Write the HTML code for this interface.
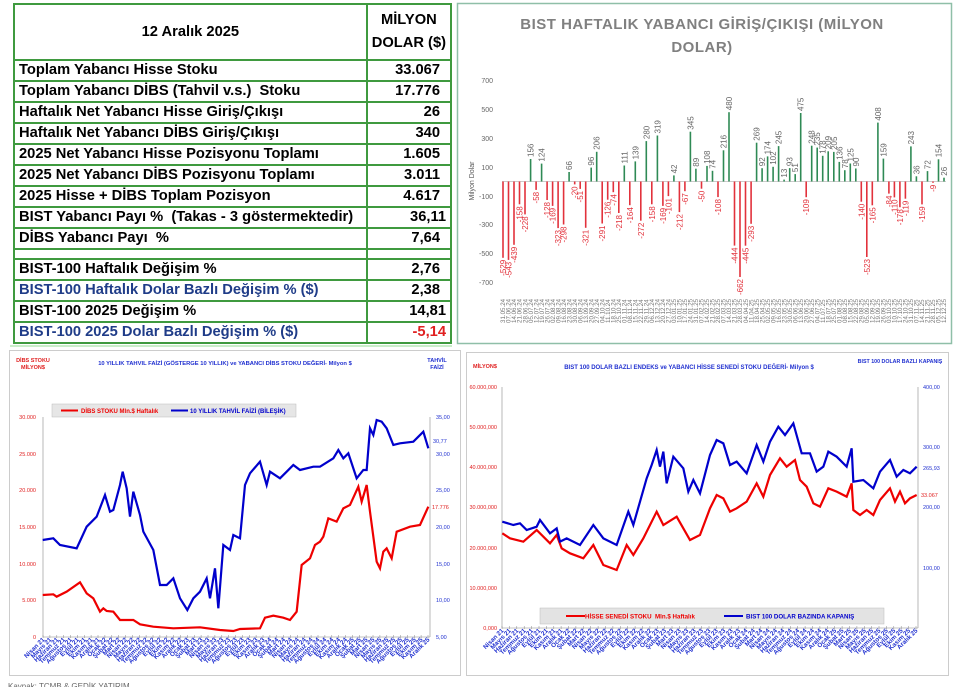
<!DOCTYPE html>
<html><head><meta charset="utf-8"><style>
body{margin:0;width:960px;height:687px;background:#fff;position:relative;overflow:hidden;font-family:"Liberation Sans",sans-serif}
#tbl{position:absolute;left:13px;top:3px;border-collapse:collapse;width:439px;font-weight:bold;font-size:14.7px}
#tbl td{border:2px solid #3f9a3f;padding:0 4px;height:19px;line-height:19px;white-space:nowrap}
#tbl td.v{text-align:right;padding-right:10px}
.b{color:#1f3c88}
svg text{font-family:"Liberation Sans",sans-serif}
</style></head><body>
<table id="tbl">
<tr><td style="height:54px;text-align:center;width:347px">12 Aralık 2025</td><td style="text-align:center;line-height:23px">MİLYON<br>DOLAR ($)</td></tr>
<tr><td>Toplam Yabancı Hisse Stoku</td><td class="v">33.067</td></tr>
<tr><td>Toplam Yabancı DİBS (Tahvil v.s.)&nbsp; Stoku</td><td class="v">17.776</td></tr>
<tr><td>Haftalık Net Yabancı Hisse Giriş/Çıkışı</td><td class="v">26</td></tr>
<tr><td>Haftalık Net Yabancı DİBS Giriş/Çıkışı</td><td class="v">340</td></tr>
<tr><td>2025 Net Yabancı Hisse Pozisyonu Toplamı</td><td class="v">1.605</td></tr>
<tr><td>2025 Net Yabancı DİBS Pozisyonu Toplamı</td><td class="v">3.011</td></tr>
<tr><td>2025 Hisse + DİBS Toplam Pozisyon</td><td class="v">4.617</td></tr>
<tr><td>BIST Yabancı Payı %&nbsp; (Takas - 3 göstermektedir)</td><td class="v" style="padding-right:4px">36,11</td></tr>
<tr><td>DİBS Yabancı Payı&nbsp; %</td><td class="v">7,64</td></tr>
<tr><td style="height:8px;line-height:8px"></td><td style="height:8px;line-height:8px"></td></tr>
<tr><td>BIST-100 Haftalık Değişim %</td><td class="v">2,76</td></tr>
<tr><td class="b">BIST-100 Haftalık Dolar Bazlı Değişim % ($)</td><td class="v">2,38</td></tr>
<tr><td>BIST-100 2025 Değişim %</td><td class="v" style="padding-right:4px">14,81</td></tr>
<tr><td class="b">BIST-100 2025 Dolar Bazlı Değişim % ($)</td><td class="v" style="color:#e02020;padding-right:4px">-5,14</td></tr>
</table>

<svg width="960" height="687" style="position:absolute;left:0;top:0" xmlns="http://www.w3.org/2000/svg">
<rect x="457.5" y="3.5" width="494" height="340" fill="none" stroke="#8fbfa8" stroke-width="1.5"/>
<text x="702" y="29" text-anchor="middle" fill="#808080" font-size="15" font-weight="bold" letter-spacing="0.5">BIST HAFTALIK YABANCI GİRİŞ/ÇIKIŞI (MİLYON</text>
<text x="702" y="52" text-anchor="middle" fill="#808080" font-size="15" font-weight="bold" letter-spacing="0.5">DOLAR)</text>
<g font-size="7" fill="#666" text-anchor="end">
<text x="493" y="83">700</text><text x="493" y="112">500</text><text x="493" y="141">300</text><text x="493" y="170">100</text><text x="493" y="199">-100</text><text x="493" y="227">-300</text><text x="493" y="256">-500</text><text x="493" y="285">-700</text>
</g>
<text transform="translate(474,181) rotate(-90)" text-anchor="middle" font-size="7" fill="#555">Milyon Dolar</text>
<line x1="502" y1="181.5" x2="946" y2="181.5" stroke="#ccc" stroke-width="1"/>
<g id="bars"></g>

<rect x="9.5" y="350.5" width="451" height="325" fill="none" stroke="#ccc"/>
<line x1="10" y1="346" x2="452" y2="346" stroke="#b8e8b8" stroke-width="1.5"/>
<text x="33" y="362" text-anchor="middle" fill="#e02020" font-size="5.5" font-weight="bold">DİBS STOKU</text>
<text x="33" y="369" text-anchor="middle" fill="#e02020" font-size="5.5" font-weight="bold">MİLYON$</text>
<text x="225" y="365" text-anchor="middle" fill="#2030d0" font-size="5.8" font-weight="bold">10 YILLIK TAHVIL FAİZİ (GÖSTERGE 10 YILLIK) ve YABANCI DİBS STOKU DEĞERİ- Milyon $</text>
<text x="437" y="362" text-anchor="middle" fill="#2030d0" font-size="5.5" font-weight="bold">TAHVİL</text>
<text x="437" y="369" text-anchor="middle" fill="#2030d0" font-size="5.5" font-weight="bold">FAİZİ</text>
<rect x="52" y="404" width="244" height="13" fill="#e6e6e6" stroke="#bbb" stroke-width="0.5"/>
<line x1="61" y1="410.5" x2="78" y2="410.5" stroke="#e00" stroke-width="2"/>
<text x="81" y="413" fill="#e00" font-size="6" font-weight="bold">DİBS STOKU Mln.$ Haftalık</text>
<line x1="171" y1="410.5" x2="188" y2="410.5" stroke="#00c" stroke-width="2"/>
<text x="190" y="413" fill="#00c" font-size="6" font-weight="bold">10 YILLIK TAHVİL FAİZİ (BİLEŞİK)</text>
<g font-size="5.5" fill="#e02020" text-anchor="end">
<text x="36" y="419">30.000</text><text x="36" y="456">25.000</text><text x="36" y="492">20.000</text><text x="36" y="529">15.000</text><text x="36" y="566">10.000</text><text x="36" y="602">5.000</text><text x="36" y="639">0</text>
</g>
<g font-size="5.5" fill="#2030d0">
<text x="436" y="419">35,00</text><text x="436" y="456">30,00</text><text x="433" y="443">30,77</text><text x="436" y="492">25,00</text><text x="432" y="509" fill="#e02020">17.776</text><text x="436" y="529">20,00</text><text x="436" y="566">15,00</text><text x="436" y="602">10,00</text><text x="436" y="639">5,00</text>
</g>
<line x1="43" y1="417" x2="43" y2="637" stroke="#888" stroke-width="0.6"/>
<line x1="430" y1="417" x2="430" y2="637" stroke="#888" stroke-width="0.6"/>
<line x1="43" y1="637" x2="430" y2="637" stroke="#888" stroke-width="0.6"/>
<g id="blx"></g>
<g transform="translate(0,345) scale(0.33333)">
<polyline fill="none" stroke="#e00" stroke-width="2.2" vector-effect="non-scaling-stroke" points="128,750 160,748 170,755 200,740 240,712 260,745 280,760 300,800 310,790 320,798 340,800 360,825 400,825 420,838 460,845 520,850 600,847 660,855 700,858 720,852 780,850 795,818 820,812 850,818 870,825 890,800 905,660 930,640 945,600 960,590 970,575 985,520 1010,530 1030,490 1050,480 1075,425 1085,470 1100,420 1110,500 1130,650 1140,670 1150,620 1160,610 1175,640 1190,560 1230,545 1260,540 1285,485"/>
<polyline fill="none" stroke="#00c" stroke-width="2.2" vector-effect="non-scaling-stroke" points="128,585 160,580 180,600 230,610 260,545 290,515 315,450 330,500 340,495 360,420 368,380 380,430 390,515 400,440 420,510 430,560 460,615 480,720 500,720 520,700 540,760 562,795 580,760 600,740 620,700 630,760 645,670 655,790 670,600 690,615 700,570 720,580 735,420 750,385 780,350 800,420 810,380 840,400 860,380 880,360 900,375 940,365 960,365 1000,340 1015,315 1030,340 1045,325 1070,400 1090,375 1100,375 1110,250 1120,270 1130,225 1145,230 1160,250 1180,300 1200,295 1240,290 1270,260 1285,310"/>
</g>

<rect x="466.5" y="352.5" width="482" height="323" fill="none" stroke="#ccc"/>
<text x="485" y="368" text-anchor="middle" fill="#e02020" font-size="5.5" font-weight="bold">MİLYON$</text>
<text x="689" y="369" text-anchor="middle" fill="#2030d0" font-size="6" font-weight="bold">BIST 100 DOLAR BAZLI ENDEKS ve YABANCI HİSSE SENEDİ STOKU DEĞERİ- Milyon $</text>
<text x="900" y="363" text-anchor="middle" fill="#2030d0" font-size="5.3" font-weight="bold">BIST 100 DOLAR BAZLI KAPANIŞ</text>
<g font-size="5.5" fill="#e02020" text-anchor="end">
<text x="497" y="389">60.000,000</text><text x="497" y="429">50.000,000</text><text x="497" y="469">40.000,000</text><text x="497" y="509">30.000,000</text><text x="497" y="550">20.000,000</text><text x="497" y="590">10.000,000</text><text x="497" y="630">0,000</text>
</g>
<g font-size="5.5" fill="#2030d0">
<text x="923" y="389">400,00</text><text x="923" y="449">300,00</text><text x="923" y="470">265,93</text><text x="921" y="497" fill="#e02020">33.067</text><text x="923" y="509">200,00</text><text x="923" y="570">100,00</text>
</g>
<line x1="502" y1="387" x2="502" y2="628" stroke="#888" stroke-width="0.6"/>
<line x1="918" y1="387" x2="918" y2="628" stroke="#888" stroke-width="0.6"/>
<line x1="502" y1="628" x2="918" y2="628" stroke="#888" stroke-width="0.6"/>
<g transform="translate(470,345) scale(0.33333)">
<polyline fill="none" stroke="#e00" stroke-width="2.2" vector-effect="non-scaling-stroke" points="97,565 120,580 160,590 200,555 240,595 260,570 275,610 300,625 340,640 370,600 400,660 440,675 470,600 490,630 520,580 560,500 580,540 620,515 660,585 690,570 720,490 740,450 760,460 780,500 800,490 830,470 860,415 880,455 900,390 930,340 950,365 975,345 990,405 1010,425 1030,475 1050,485 1075,430 1100,440 1130,455 1145,415 1150,495 1170,510 1190,495 1210,510 1230,465 1260,430 1275,470 1290,440 1305,475 1320,460 1340,450"/>
<polyline fill="none" stroke="#00c" stroke-width="2.2" vector-effect="non-scaling-stroke" points="97,530 130,540 150,535 170,555 200,545 210,525 240,565 260,550 270,590 290,580 330,600 370,540 400,580 440,600 475,500 490,540 510,470 530,400 545,360 560,315 570,365 580,320 590,415 610,335 640,370 655,440 670,405 690,445 720,330 740,285 760,295 780,360 800,350 830,385 860,300 880,350 900,290 925,245 945,270 970,235 995,325 1020,325 1040,380 1060,365 1075,320 1100,335 1130,365 1145,310 1150,410 1180,405 1210,430 1230,380 1260,345 1280,395 1300,375 1320,385 1340,365"/>
</g>
<rect x="540" y="608" width="344" height="16" fill="#e3e3e3" stroke="#bbb" stroke-width="0.5"/>
<line x1="566" y1="616" x2="585" y2="616" stroke="#e00" stroke-width="2"/>
<text x="585" y="618.5" fill="#e00" font-size="6.2" font-weight="bold">HİSSE SENEDİ STOKU&nbsp; Mln.$ Haftalık</text>
<line x1="724" y1="616" x2="743" y2="616" stroke="#00c" stroke-width="2"/>
<text x="746" y="618.5" fill="#00c" font-size="6.2" font-weight="bold">BIST 100 DOLAR BAZINDA KAPANIŞ</text>
<g id="brx"></g>
<text x="8" y="689" font-size="8" fill="#666">Kaynak: TCMB &amp; GEDİK YATIRIM</text>
</svg>
<script>
var v=[-529,-543,-439,-158,-228,156,-58,124,-128,-169,-323,-298,66,-20,-51,-321,96,206,-291,-126,-74,-218,111,-164,139,-272,280,-158,319,-169,-101,42,-212,-67,345,89,-50,108,74,-108,216,480,-444,-662,-445,-293,269,92,174,102,245,13,93,51,475,-109,248,235,178,209,205,136,78,125,90,-140,-523,-165,408,159,-84,-110,-178,-119,243,36,-159,72,-9,154,26];
var g=document.getElementById("bars"),s="";
var n=v.length,x0=503,x1=944,dx=(x1-x0)/(n-1),z=181.5,k=0.1443;
var d0=new Date(2024,4,31);
function p(a){return (a<10?"0":"")+a}
for(var i=0;i<n;i++){var x=x0+i*dx,y=z-v[i]*k,pos=v[i]>0;
s+='<line x1="'+x.toFixed(1)+'" y1="'+z+'" x2="'+x.toFixed(1)+'" y2="'+y.toFixed(1)+'" stroke="'+(pos?'#2f8a55':'#e2323c')+'" stroke-width="1.6"/>';
var ty=pos?y-2:y+2;
s+='<text transform="translate('+(x+3).toFixed(1)+','+ty.toFixed(1)+') rotate(-90)" font-size="8" fill="'+(pos?'#666':'#e2323c')+'" text-anchor="'+(pos?'start':'end')+'">'+v[i]+'</text>';
var d=new Date(d0.getTime()+i*7*864e5);
s+='<text transform="translate('+(x+2.2).toFixed(1)+',323) rotate(-90)" font-size="6.2" fill="#777">'+p(d.getDate())+'.'+p(d.getMonth()+1)+'.'+p(d.getFullYear()%100)+'</text>';}
g.innerHTML=s;
var M=["Nisan","Mayıs","Haziran","Temmuz","Ağustos","Eylül","Ekim","Kasım","Aralık","Ocak","Şubat","Mart"];
function axis(id,xa,xb,ty){var t="",m=57;for(var i=0;i<m;i++){var x=xa+i*(xb-xa)/(m-1);var mi=i%12,yr=21+Math.floor((i+3)/12);
t+='<line x1="'+x.toFixed(1)+'" y1="'+(ty-2)+'" x2="'+x.toFixed(1)+'" y2="'+(ty+1)+'" stroke="#888" stroke-width="0.5"/>';
t+='<text transform="translate('+(x+2).toFixed(1)+','+(ty+3)+') rotate(-45)" font-size="6.3" fill="#2030d0" text-anchor="end" font-weight="bold">'+M[mi]+' '+yr+'</text>';}
document.getElementById(id).innerHTML=t;}
axis("blx",43,428,637);axis("brx",502,916,628);
</script>
</body></html>
